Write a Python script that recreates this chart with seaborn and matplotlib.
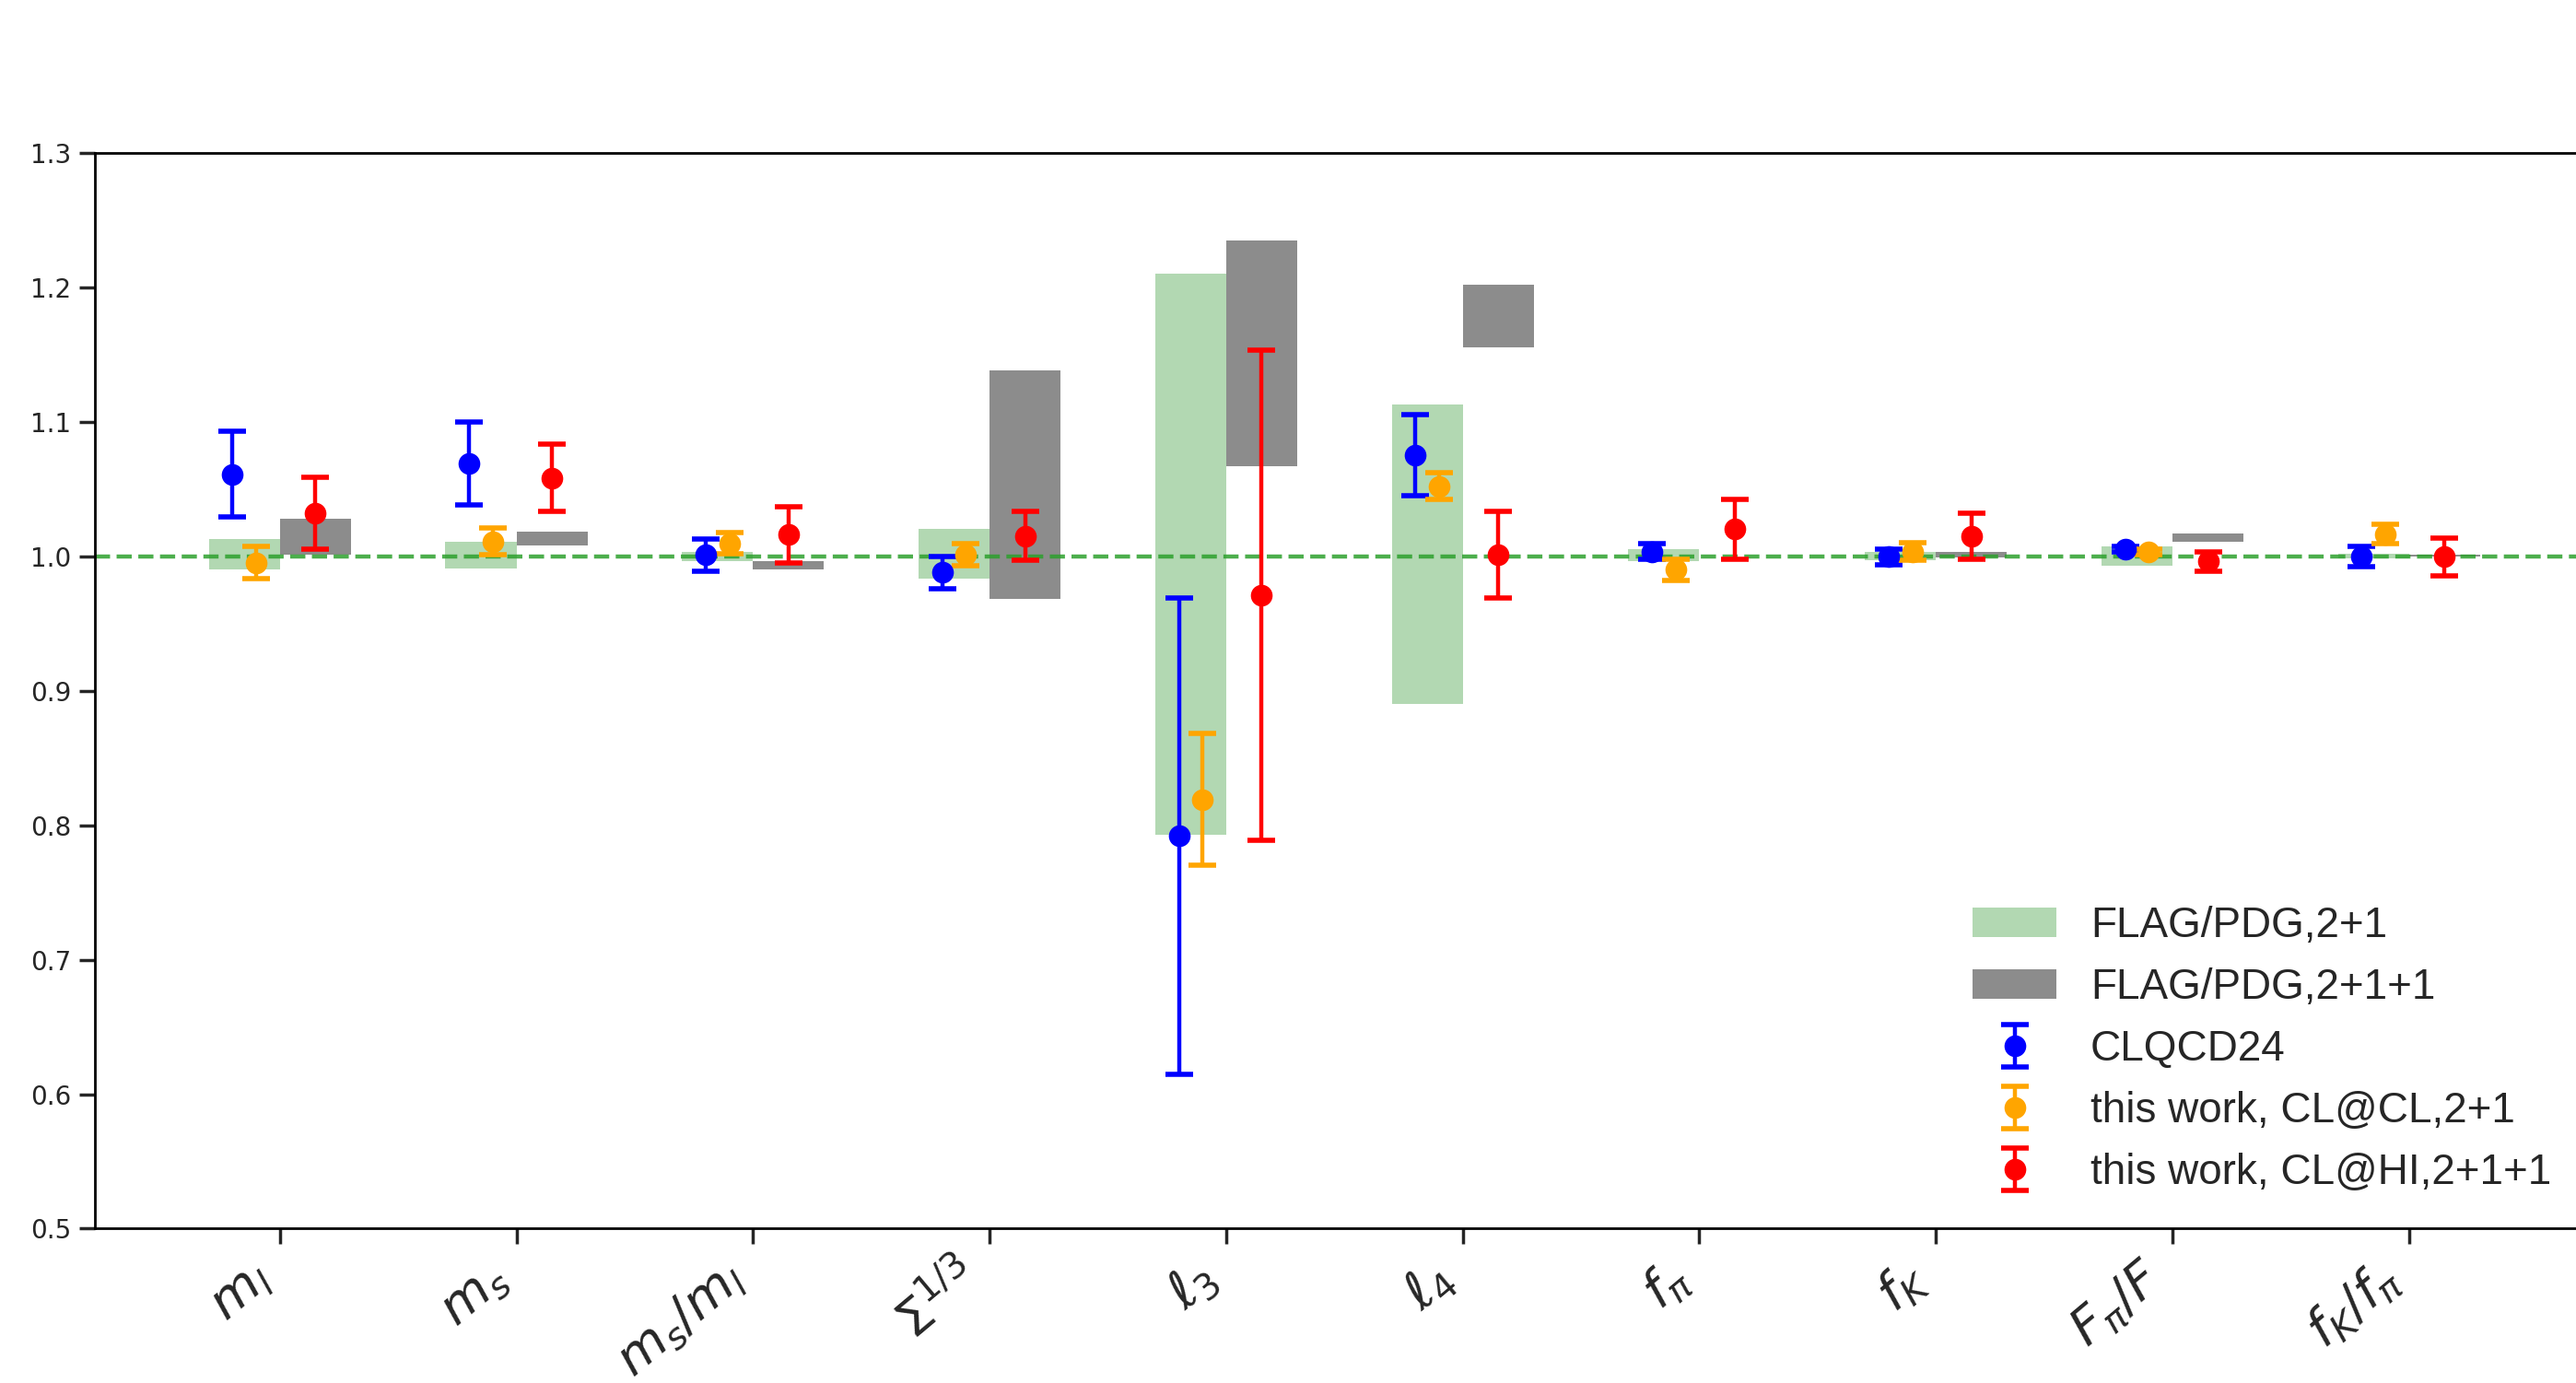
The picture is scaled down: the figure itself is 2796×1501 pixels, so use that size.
import numpy as np
import matplotlib
matplotlib.use('Agg')
import matplotlib.pyplot as plt
import seaborn as sns
from matplotlib.patches import Patch

# quantities (ratios to reference)
labels = [r'$m_l$', r'$m_s$', r'$m_s/m_l$', r'$\Sigma^{1/3}$', r'$\ell_3$',
          r'$\ell_4$', r'$f_\pi$', r'$f_K$', r'$F_\pi/F$', r'$f_K/f_\pi$']

# FLAG/PDG bands (low, high)
flag21_lo = [0.990, 0.991, 0.9966, 0.983, 0.793, 0.890, 0.996, 0.997, 0.993, 0.9985]
flag21_hi = [1.013, 1.011, 1.0035, 1.020, 1.210, 1.113, 1.0055, 1.0035, 1.0075, 1.002]
flag211_lo = [1.001, 1.008, 0.990, 0.968, 1.067, 1.155, np.nan, 0.999, 1.011, 0.9995]
flag211_hi = [1.028, 1.018, 0.996, 1.138, 1.235, 1.202, np.nan, 1.003, 1.017, 1.001]

# lattice results
clqcd_val = [1.061, 1.069, 1.001, 0.988, 0.792, 1.075, 1.0035, 0.9995, 1.005, 0.9995]
clqcd_err = [0.032, 0.031, 0.012, 0.012, 0.177, 0.030, 0.006, 0.006, 0.002, 0.0075]
clcl_val = [0.995, 1.011, 1.0095, 1.001, 0.819, 1.052, 0.990, 1.0035, 1.003, 1.0165]
clcl_err = [0.012, 0.010, 0.008, 0.008, 0.049, 0.010, 0.008, 0.0065, 0.002, 0.007]
clhi_val = [1.032, 1.058, 1.016, 1.015, 0.971, 1.001, 1.020, 1.015, 0.996, 0.9995]
clhi_err = [0.027, 0.025, 0.021, 0.018, 0.182, 0.032, 0.0225, 0.017, 0.007, 0.014]

sns.set_theme(style='ticks')
plt.rcParams['font.family'] = ['DejaVu Sans']

fig = plt.figure(figsize=(13.98, 7.505), dpi=200)
ax = fig.add_axes([0.037, 0.1116, 0.968, 0.778])

x = np.arange(len(labels))
w = 0.3

lo21 = np.array(flag21_lo)
hi21 = np.array(flag21_hi)
lo211 = np.array(flag211_lo)
hi211 = np.array(flag211_hi)

ax.bar(x - w, hi21 - lo21, bottom=lo21, width=w, align='edge',
       color='green', alpha=0.3, linewidth=0, zorder=1)
ax.bar(x, hi211 - lo211, bottom=lo211, width=w, align='edge',
       color='gray', alpha=0.9, linewidth=0, zorder=1)

ax.axhline(1.0, color='tab:green', ls='--', lw=1.6, alpha=0.85, zorder=2)

ekw = dict(fmt='o', markersize=7.5, capsize=5.5, capthick=2.0, elinewidth=1.6, zorder=3)
hb = ax.errorbar(x - 0.2, clqcd_val, yerr=clqcd_err, color='blue', **ekw)
ho = ax.errorbar(x - 0.1, clcl_val, yerr=clcl_err, color='orange', **ekw)
hr = ax.errorbar(x + 0.15, clhi_val, yerr=clhi_err, color='red', **ekw)

ax.set_xlim(-0.78, 9.76)
ax.set_ylim(0.5, 1.3)
ax.set_yticks(np.arange(0.5, 1.31, 0.1))
ax.tick_params(axis='y', labelsize=10)
ax.set_xticks(x)
ax.set_xticklabels(labels, rotation=40, ha='right', fontsize=20)
for s in ax.spines.values():
    s.set_color('black')
    s.set_linewidth(1.0)

# legend
h_green = Patch(facecolor='green', alpha=0.3, linewidth=0)
h_gray = Patch(facecolor='gray', alpha=0.9, linewidth=0)
fig.legend([h_green, h_gray, hb, ho, hr],
           ['FLAG/PDG,2+1', 'FLAG/PDG,2+1+1', 'CLQCD24',
            'this work, CL@CL,2+1', 'this work, CL@HI,2+1+1'],
           loc='lower right', bbox_to_anchor=(0.997, 0.125), frameon=False,
           prop={'family': 'Liberation Sans', 'size': 16.5}, borderaxespad=0,
           labelspacing=0.5)

fig.savefig('out.png', dpi=200)
